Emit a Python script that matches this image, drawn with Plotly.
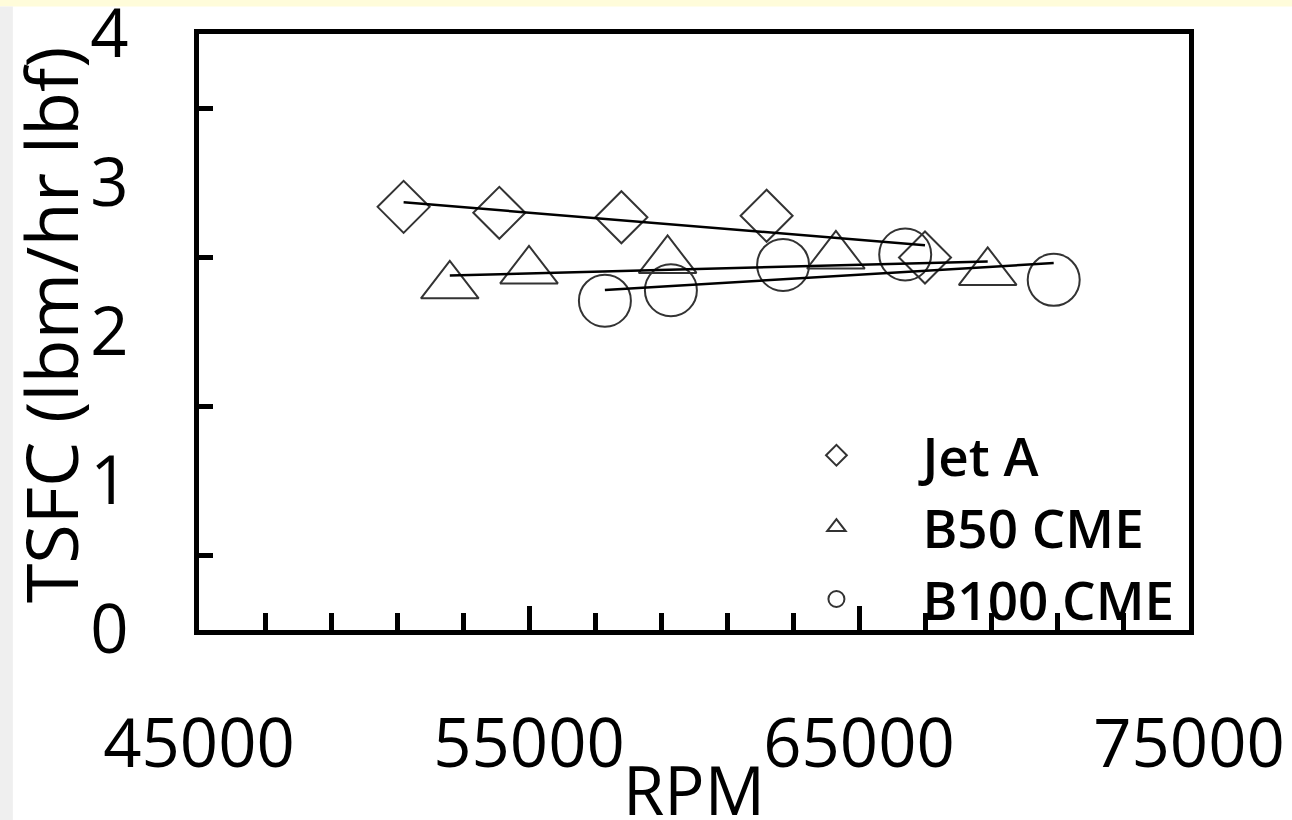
import numpy as np
import plotly.graph_objects as go

# Engine speed (RPM) and thrust-specific fuel consumption (lbm/hr lbf)
jet_a_rpm = [51200, 54100, 57800, 62200, 67000]
jet_a_tsfc = [2.84, 2.80, 2.77, 2.78, 2.50]

b50_rpm = [52600, 55000, 59200, 64300, 68900]
b50_tsfc = [2.31, 2.41, 2.48, 2.51, 2.40]

b100_rpm = [57300, 59300, 62700, 66400, 70900]
b100_tsfc = [2.21, 2.28, 2.45, 2.52, 2.35]

series = [
    ("Jet A", jet_a_rpm, jet_a_tsfc, "diamond-open", 40),
    ("B50 CME", b50_rpm, b50_tsfc, "triangle-up-open", 50),
    ("B100 CME", b100_rpm, b100_tsfc, "circle-open", 52),
]

FONT = "Open Sans, Lato, Liberation Sans, sans-serif"
MARKER_EDGE = "#333333"

fig = go.Figure()

for name, xs, ys, symbol, size in series:
    fig.add_trace(go.Scatter(
        x=xs, y=ys, mode="markers", name=name,
        marker=dict(symbol=symbol, size=size,
                    color=MARKER_EDGE, line=dict(color=MARKER_EDGE, width=2)),
    ))

# Linear least-squares trend line over each series' RPM span
for name, xs, ys, symbol, size in series:
    slope, intercept = np.polyfit(xs, ys, 1)
    xfit = np.array([min(xs), max(xs)], dtype=float)
    fig.add_trace(go.Scatter(
        x=xfit, y=slope * xfit + intercept, mode="lines",
        line=dict(color="black", width=2.5), showlegend=False,
        hoverinfo="skip",
    ))

axis_common = dict(
    showline=True, linecolor="black", linewidth=5, mirror=True,
    showgrid=False, zeroline=False, automargin=False,
    ticklabeloverflow="allow",
    tickfont=dict(family=FONT, size=67, color="black"),
)

fig.update_xaxes(
    range=[45000, 75000], tick0=45000, dtick=10000, tickformat="d",
    ticks="inside", ticklen=24, tickwidth=5, tickcolor="black",
    minor=dict(tick0=45000, dtick=2000, ticks="inside", ticklen=17,
               tickwidth=5, tickcolor="black"),
    ticklabelstandoff=52,
    **axis_common,
)

fig.update_yaxes(
    range=[0, 4], tick0=0, dtick=1, ticks="",
    minor=dict(tickvals=[0.5, 1.5, 2.5, 3.5], ticks="inside", ticklen=14,
               tickwidth=5, tickcolor="black"),
    ticklabelstandoff=52,
    **axis_common,
)

fig.update_layout(
    width=1292, height=820,
    margin=dict(l=199, r=103, t=34, b=190),
    paper_bgcolor="white", plot_bgcolor="white",
    showlegend=True,
    legend=dict(
        x=0.557, y=0.362, xanchor="left", yanchor="top",
        bgcolor="rgba(0,0,0,0)", borderwidth=0,
        font=dict(family=FONT, size=53, color="black", weight=600),
        itemwidth=162,
    ),
    annotations=[
        dict(text="TSFC (lbm/hr lbf)", textangle=-90,
             xref="paper", yref="paper", x=-0.151, y=0.512,
             xanchor="center", yanchor="middle", showarrow=False,
             font=dict(family=FONT, size=72, color="black")),
        dict(text="RPM", xref="paper", yref="paper", x=0.5, y=-0.186,
             xanchor="center", yanchor="top", showarrow=False,
             font=dict(family=FONT, size=67, color="black")),
    ],
    shapes=[
        # pale band along the top edge of the page
        dict(type="rect", xref="paper", yref="paper",
             x0=-0.21, x1=1.11, y0=1.046, y1=1.07,
             fillcolor="#FFFCDA", line=dict(width=0), layer="below"),
        # faint grey strip down the left edge of the page
        dict(type="rect", xref="paper", yref="paper",
             x0=-0.21, x1=-0.188, y0=-0.33, y1=1.046,
             fillcolor="#EFEFEF", line=dict(width=0), layer="below"),
    ],
)

fig.write_html("out.html")
